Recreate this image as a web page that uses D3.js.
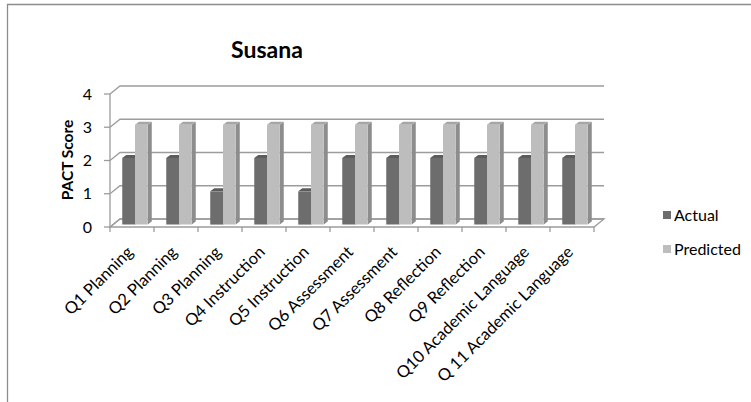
<!DOCTYPE html>
<html>
<head>
<meta charset="utf-8">
<script src="https://cdn.jsdelivr.net/npm/d3@7"></script>
<style>
  html, body { margin: 0; padding: 0; background: #fff; }
  svg { display: block; }
  text { font-family: Lato, "Open Sans", "Liberation Sans", sans-serif; fill: #000; }
</style>
</head>
<body>
<svg id="chart" width="751" height="402"></svg>
<script>
// ---- data ----
const categories = ["Q1 Planning", "Q2 Planning", "Q3 Planning", "Q4 Instruction", "Q5 Instruction",
  "Q6 Assessment", "Q7 Assessment", "Q8 Reflection", "Q9 Reflection", "Q10 Academic Language", "Q 11 Academic Language"];
const seriesNames = ["Actual", "Predicted"];
const actual    = [2, 2, 1, 2, 1, 2, 2, 2, 2, 2, 2];
const predicted = [3, 3, 3, 3, 3, 3, 3, 3, 3, 3, 3];
const yTicks = [0, 1, 2, 3, 4];
const title = "Susana";
const yTitle = "PACT Score";

// ---- layout ----
const svg = d3.select("#chart");
const W = 751, H = 402;
const X0 = 110, X1 = 594, Y0 = 227, Y1 = 94;
const DX = 10, DY = 8;          // depth offset (back wall)
const Z0 = 0.3, Z1 = 0.7;       // bar depth range
const P = (x, y, z) => [x + z * DX, y - z * DY];

const x = d3.scaleBand().domain(categories).range([X0, X1]).paddingInner(0).paddingOuter(0);
const groupW = x.bandwidth() * 0.58;
const xs = d3.scaleBand().domain(seriesNames)
  .range([(x.bandwidth() - groupW) / 2, (x.bandwidth() + groupW) / 2]).padding(0);
const y = d3.scaleLinear().domain([0, 4]).range([Y0, Y1]);

const colors = {
  Actual:    { front: "#6d6d6d", side: "#4c4c4c", top: "#5c5c5c" },
  Predicted: { front: "#bdbdbd", side: "#8d8d8d", top: "#a6a6a6" }
};
const gridColor = "#9c9c9c";

svg.append("rect").attr("width", W).attr("height", H).attr("fill", "#fff");
// chart area border (left & top visible)
svg.append("path").attr("d", `M7.5,${H} L7.5,4.5 L${W},4.5`)
  .attr("fill", "none").attr("stroke", "#8c8c8c").attr("stroke-width", 1.3);

// title
svg.append("text").attr("x", 267).attr("y", 58).attr("text-anchor", "middle")
  .attr("font-size", 23).attr("font-weight", "bold").text(title);

const line = d3.line();

// floor
const floorPts = [P(X0, Y0, 0), P(X1, Y0, 0), P(X1, Y0, 1), P(X0, Y0, 1)];
svg.append("path").attr("d", line(floorPts) + "Z")
  .attr("fill", "#fff").attr("stroke", gridColor).attr("stroke-width", 1.3);

// gridlines: left wall diagonals + back wall horizontals
const grid = svg.append("g").attr("fill", "none").attr("stroke", gridColor).attr("stroke-width", 1.3);
yTicks.forEach(t => {
  const yy = y(t);
  grid.append("path").attr("d", line([P(X0, yy, 0), P(X0, yy, 1), P(X1, yy, 1)]));
  grid.append("path").attr("d", line([[X0 - 6, yy], [X0, yy]]));
});
// vertical axis line
grid.append("path").attr("d", line([[X0, y(4)], [X0, Y0]]));
// x ticks
d3.range(categories.length + 1).forEach(i => {
  const xx = X0 + i * x.step();
  grid.append("path").attr("d", line([[xx, Y0], [xx, Y0 + 5]]));
});

// y tick labels
svg.append("g").selectAll("text").data(yTicks).join("text")
  .attr("x", 92).attr("y", d => y(d)).attr("dy", "0.35em")
  .attr("text-anchor", "end").attr("font-size", 16).text(d => d);

// y title
svg.append("text").attr("transform", `translate(73,160) rotate(-90)`)
  .attr("text-anchor", "middle").attr("font-size", 15.5).attr("font-weight", "bold").text(yTitle);

// bars
const data = [];
categories.forEach((c, i) => {
  data.push({ cat: c, s: "Actual", v: actual[i] });
  data.push({ cat: c, s: "Predicted", v: predicted[i] });
});
const barsG = svg.append("g");
data.forEach(d => {
  const bl = x(d.cat) + xs(d.s), br = bl + xs.bandwidth();
  const yb = y(0), yt = y(d.v);
  const c = colors[d.s];
  const g = barsG.append("g");
  g.append("path").attr("d", line([P(br, yb, Z0), P(br, yb, Z1), P(br, yt, Z1), P(br, yt, Z0)]) + "Z")
    .attr("fill", c.side);
  g.append("path").attr("d", line([P(bl, yt, Z0), P(br, yt, Z0), P(br, yt, Z1), P(bl, yt, Z1)]) + "Z")
    .attr("fill", c.top);
  g.append("path").attr("d", line([P(bl, yb, Z0), P(br, yb, Z0), P(br, yt, Z0), P(bl, yt, Z0)]) + "Z")
    .attr("fill", c.front);
});

// category labels
svg.append("g").selectAll("text").data(categories).join("text")
  .attr("transform", d => `translate(${x(d) + x.bandwidth() / 2 - 2},${Y0 + 22}) rotate(-45)`)
  .attr("text-anchor", "end").attr("dy", "0.35em").attr("font-size", 16.5).text(d => d);

// legend
const legend = svg.append("g");
seriesNames.forEach((s, i) => {
  const ly = 215 + i * 34;
  legend.append("rect").attr("x", 663).attr("y", ly - 4).attr("width", 8).attr("height", 8)
    .attr("fill", colors[s].front);
  legend.append("text").attr("x", 674).attr("y", ly).attr("dy", "0.35em")
    .attr("font-size", 16).text(s);
});
</script>
</body>
</html>
